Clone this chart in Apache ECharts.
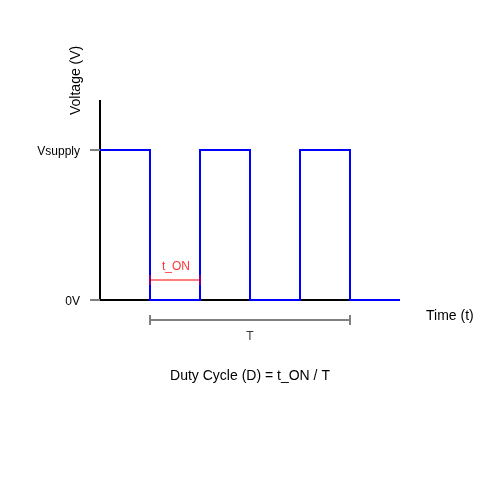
<!DOCTYPE html>
<html>
<head>
<meta charset="utf-8">
<style>html,body{margin:0;padding:0;background:#fff}#c{width:500px;height:500px}</style>
<script src="https://cdn.jsdelivr.net/npm/echarts@6/dist/echarts.min.js"></script>
</head>
<body>
<div id="c"></div>
<script>
// Time in arbitrary units, voltage in arbitrary units (Vsupply level = 3)
const signalTime    = [0, 1, 1, 2, 2, 3, 3, 4, 4, 5, 5, 6];
const signalVoltage = [3, 3, 0, 0, 3, 3, 0, 0, 3, 3, 0, 0];
const yTickValues = [0, 3];
const yTickLabels = ['0V', 'Vsupply'];
const tOnBracket = [[1, 0.5], [1, 0.3], [1, 0.4], [2, 0.4], [2, 0.5], [2, 0.3]];
const periodBracket = [[1, -0.3], [1, -0.5], [1, -0.4], [5, -0.4], [5, -0.3], [5, -0.5]];
const tOnLabel = { name: 't_ON', value: [1.52, 0.4] };
const periodLabel = { name: 'T', value: [3, -0.4] };
const xAxisName = 'Time (t)';
const yAxisName = 'Voltage (V)';
const formula = 'Duty Cycle (D) = t_ON / T';

const FONT = '"Liberation Sans", Arial, sans-serif';
const chart = echarts.init(document.getElementById('c'), null, { renderer: 'canvas' });
chart.setOption({
  animation: false,
  backgroundColor: '#fff',
  title: {
    text: formula, left: 'center', top: 360, padding: 0,
    textStyle: { fontFamily: FONT, fontSize: 14, fontWeight: 'normal', color: '#000', lineHeight: 32, height: 32 }
  },
  grid: { left: 100, top: 100, width: 300, height: 200 },
  xAxis: {
    type: 'value', min: 0, max: 6, interval: 1,
    name: xAxisName, nameLocation: 'end', nameGap: 26, nameMoveOverlap: false,
    nameTextStyle: { fontFamily: FONT, fontSize: 14, color: '#000', align: 'left', verticalAlign: 'top', lineHeight: 32 },
    axisLine: { show: true, lineStyle: { color: '#000', width: 2, cap: 'butt' } },
    axisTick: { show: false }, axisLabel: { show: false }, splitLine: { show: false }
  },
  yAxis: {
    type: 'value', min: 0, max: 4, interval: 1,
    name: yAxisName, nameLocation: 'end', nameRotate: 90, nameGap: -15, nameMoveOverlap: false,
    nameTextStyle: { fontFamily: FONT, fontSize: 14, color: '#000', align: 'left', verticalAlign: 'bottom', lineHeight: 48 },
    axisLine: { show: true, lineStyle: { color: '#000', width: 2, cap: 'butt' } },
    axisTick: { show: true, length: 10, customValues: yTickValues, lineStyle: { color: '#808080', width: 2 } },
    axisLabel: {
      show: true, margin: 20, customValues: yTickValues,
      fontFamily: FONT, fontSize: 12, color: '#000', verticalAlign: 'top', lineHeight: 3,
      formatter: v => yTickLabels[yTickValues.indexOf(v)]
    },
    splitLine: { show: false }
  },
  series: [
    {
      type: 'line', name: 'Signal', data: signalTime.map((t, i) => [t, signalVoltage[i]]),
      showSymbol: false, symbol: 'none', clip: false,
      lineStyle: { color: '#0000ff', width: 2, join: 'miter', cap: 'butt' }, z: 3
    },
    {
      type: 'line', name: 't_ON', data: tOnBracket, symbol: 'none', clip: false,
      lineStyle: { color: '#ff0000', width: 2, opacity: 0.5, join: 'miter', cap: 'butt' }, z: 4
    },
    {
      type: 'line', name: 'T', data: periodBracket, symbol: 'none', clip: false,
      lineStyle: { color: '#808080', width: 2, join: 'miter', cap: 'butt' }, z: 4
    },
    {
      type: 'scatter', name: 'labels', symbolSize: 0, clip: false, silent: true,
      data: [
        { name: tOnLabel.name, value: tOnLabel.value, label: { position: 'top', distance: 7, color: '#ff0000' } },
        { name: periodLabel.name, value: periodLabel.value, label: { position: 'bottom', distance: 11, color: '#000' } }
      ],
      label: { show: true, fontFamily: FONT, fontSize: 12, formatter: p => p.name },
      z: 5
    }
  ]
});
</script>
</body>
</html>
